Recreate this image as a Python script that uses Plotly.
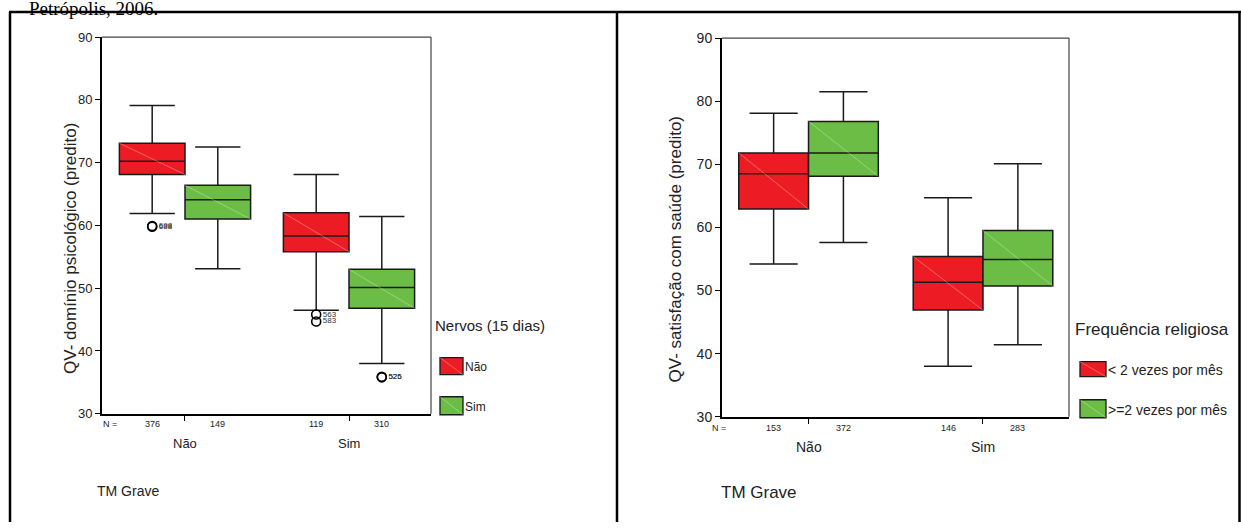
import plotly.graph_objects as go

W, H = 1241, 530

# ---------------- data ----------------
categories = ["Não", "Sim"]

# Left panel: QV - domínio psicológico, grouped by Nervos (15 dias)
left_groups = ["Não", "Sim"]
left_n = [[376, 149], [119, 310]]            # [category][group]
left_upper = [[79.1, 72.5], [68.1, 61.4]]
left_q3 = [[73.1, 66.4], [62.0, 53.0]]
left_median = [[70.2, 64.1], [58.3, 50.1]]
left_q1 = [[68.1, 61.0], [55.8, 46.8]]
left_lower = [[61.9, 53.1], [46.5, 38.0]]
left_out_cat = [0, 0, 1, 1, 1, 1]
left_out_grp = [0, 0, 0, 0, 1, 1]
left_out_val = [59.8, 59.9, 45.8, 44.7, 35.9, 35.8]
left_out_lab = ["688", "698", "563", "583", "525", "526"]

# Right panel: QV - satisfação com saúde, grouped by Frequência religiosa
right_groups = ["< 2 vezes por mês", ">=2 vezes por mês"]
right_n = [[153, 372], [146, 283]]
right_upper = [[78.1, 81.5], [64.7, 70.1]]
right_q3 = [[71.8, 76.8], [55.4, 59.5]]
right_median = [[68.5, 71.8], [51.3, 54.9]]
right_q1 = [[62.9, 68.1], [46.9, 50.7]]
right_lower = [[54.2, 57.6], [38.0, 41.4]]

yticks = [30, 40, 50, 60, 70, 80, 90]

# ---------------- style ----------------
RED = "#ED1C24"
GREEN = "#6BBD45"
EDGE = "#1a1a1a"
NARROW = "Liberation Sans Narrow, Arial Narrow, Liberation Sans, Arial"
SANS = "Liberation Sans, Arial, sans-serif"
BOXW = 0.4
OFF = [-0.2, 0.2]
COLORS = [RED, GREEN]

# the page is photographed with a small top offset; map target pixel rows
Y0, YS = 9.0, 0.968

def px_x(p):
    return p / W

def px_y(p):
    return 1 - ((p - Y0) / YS) / H

fig = go.Figure()

def add_panel(xa, ya, upper, q3, med, q1, lower):
    for ci in range(len(categories)):
        for gi in range(2):
            pos = ci + OFF[gi]
            fig.add_trace(go.Box(
                x=[pos], q1=[q1[ci][gi]], median=[med[ci][gi]], q3=[q3[ci][gi]],
                lowerfence=[lower[ci][gi]], upperfence=[upper[ci][gi]],
                width=BOXW, whiskerwidth=0.69, fillcolor=COLORS[gi],
                line=dict(color=EDGE, width=1.5), boxpoints=False,
                showlegend=False, hoverinfo="skip", xaxis=xa, yaxis=ya))
            # faint diagonal of the SPSS fill pattern
            fig.add_trace(go.Scatter(
                x=[pos - BOXW / 2, pos + BOXW / 2], y=[q3[ci][gi], q1[ci][gi]],
                mode="lines", line=dict(color="rgba(255,255,255,0.45)", width=0.7),
                showlegend=False, hoverinfo="skip", xaxis=xa, yaxis=ya))

add_panel("x", "y", left_upper, left_q3, left_median, left_q1, left_lower)
add_panel("x2", "y2", right_upper, right_q3, right_median, right_q1, right_lower)

# outliers (left panel)
fig.add_trace(go.Scatter(
    x=[c + OFF[g] for c, g in zip(left_out_cat, left_out_grp)], y=left_out_val,
    mode="markers+text", text=left_out_lab, textposition="middle right",
    textfont=dict(family=NARROW, size=8, color="#333"),
    marker=dict(symbol="circle-open", size=9, color="black", line=dict(width=1.6)),
    showlegend=False, hoverinfo="skip", xaxis="x", yaxis="y"))

axis_common = dict(showgrid=False, zeroline=False, showline=True, linecolor="black",
                   linewidth=2, ticks="outside", ticklen=5, tickcolor="black")

fig.update_layout(
    width=W, height=H, margin=dict(l=0, r=0, t=0, b=0),
    paper_bgcolor="white", plot_bgcolor="white", boxmode="overlay",
    xaxis=dict(domain=[px_x(102), px_x(431)], range=[-0.506, 1.5],
               tickvals=[0, 1], ticktext=["", ""], anchor="y", **axis_common),
    yaxis=dict(domain=[px_y(414), px_y(38)], range=[30, 90], tickvals=yticks,
               tickfont=dict(family=NARROW, size=13, color="#222"), anchor="x",
               **axis_common),
    xaxis2=dict(domain=[px_x(722), px_x(1069)], range=[-0.496, 1.493],
                tickvals=[0, 1], ticktext=["", ""], anchor="y2", **axis_common),
    yaxis2=dict(domain=[px_y(417), px_y(39)], range=[30, 90], tickvals=yticks,
                tickfont=dict(family=SANS, size=14, color="#222"), anchor="x2",
                **axis_common),
)

shapes = []
# thin frame on top/right of plot areas
for xr, yr in [("x domain", "y domain"), ("x2 domain", "y2 domain")]:
    shapes.append(dict(type="line", xref=xr, yref=yr, x0=0, x1=1, y0=1, y1=1,
                       line=dict(color="#444", width=1.2)))
    shapes.append(dict(type="line", xref=xr, yref=yr, x0=1, x1=1, y0=0, y1=1,
                       line=dict(color="#444", width=1.2)))
# outer panel frames
frame = dict(color="black", width=2.5)
shapes.append(dict(type="line", xref="paper", yref="paper", x0=px_x(9), x1=px_x(1241),
                   y0=px_y(13), y1=px_y(13), line=frame))
for xp in [10, 617, 1239.5]:
    shapes.append(dict(type="line", xref="paper", yref="paper", x0=px_x(xp), x1=px_x(xp),
                       y0=px_y(13), y1=0, line=frame))

annotations = []
# header text (cut off at top, as in the source page)
annotations.append(dict(text="Petrópolis, 2006.", x=px_x(27), y=1 - 13 / H, xref="paper",
                        yref="paper", xanchor="left", yanchor="bottom", showarrow=False,
                        font=dict(family="Liberation Serif, Times New Roman, serif",
                                  size=19, color="black")))

def panel_text(xa, x_left_px, y_n, y_cat, nvals, fsN, fsC, font, ytitle, ytx, yty, fsT,
               tmx, tmy, fsTM):
    annotations.append(dict(text="N =", x=px_x(x_left_px), y=px_y(y_n), xref="paper",
                            yref="paper", showarrow=False,
                            font=dict(family=font, size=fsN, color="#222")))
    for ci in range(len(categories)):
        annotations.append(dict(text=categories[ci], x=ci, y=px_y(y_cat), xref=xa,
                                yref="paper", showarrow=False,
                                font=dict(family=font, size=fsC, color="#222")))
        for gi in range(2):
            annotations.append(dict(text=str(nvals[ci][gi]), x=ci + OFF[gi], y=px_y(y_n),
                                    xref=xa, yref="paper", showarrow=False,
                                    font=dict(family=font, size=fsN, color="#222")))
    annotations.append(dict(text=ytitle, x=px_x(ytx), y=px_y(yty), xref="paper",
                            yref="paper", textangle=-90, showarrow=False,
                            font=dict(family=font, size=fsT, color="#222")))
    annotations.append(dict(text="TM Grave", x=px_x(tmx), y=px_y(tmy), xref="paper",
                            yref="paper", xanchor="left", showarrow=False,
                            font=dict(family=font, size=fsTM, color="#222")))

panel_text("x", 101, 431, 453, left_n, 9, 13, NARROW,
           "QV- domínio psicológico (predito)", 59, 249, 17, 95, 501, 14)
panel_text("x2", 719, 435, 457, right_n, 9, 14, SANS,
           "QV- satisfação com saúde (predito)", 675, 250, 17, 719, 504, 17)

def legend(title, labels, tx, ty, fsT, sx0, sx1, sy, lfs, font):
    annotations.append(dict(text=title, x=px_x(tx), y=px_y(ty), xref="paper",
                            yref="paper", xanchor="left", showarrow=False,
                            font=dict(family=font, size=fsT, color="#222")))
    for i, lab in enumerate(labels):
        y0, y1 = sy[i]
        shapes.append(dict(type="rect", xref="paper", yref="paper",
                           x0=px_x(sx0), x1=px_x(sx1), y0=px_y(y1), y1=px_y(y0),
                           fillcolor=COLORS[i], line=dict(color=EDGE, width=1.3)))
        shapes.append(dict(type="line", xref="paper", yref="paper",
                           x0=px_x(sx0), x1=px_x(sx1), y0=px_y(y0), y1=px_y(y1),
                           line=dict(color="rgba(255,255,255,0.45)", width=0.7)))
        annotations.append(dict(text=lab, x=px_x(sx1), y=px_y((y0 + y1) / 2 + 1),
                                xref="paper", yref="paper", xanchor="left",
                                yanchor="middle", showarrow=False,
                                font=dict(family=font, size=lfs, color="#222")))

legend("Nervos (15 dias)", left_groups, 433, 326, 15, 440, 463,
       [(358, 375), (397, 415)], 12, NARROW)
legend("Frequência religiosa", right_groups, 1073, 330, 17, 1080, 1106,
       [(362, 377), (400, 418)], 14, SANS)

fig.update_layout(shapes=shapes, annotations=annotations)
fig.write_html(
    "out.html",
    config={"displayModeBar": False, "responsive": False},
    post_script=(
        "document.body.style.margin='0';document.body.style.overflow='hidden';"
        "var d=document.getElementById('{plot_id}');"
        "d.style.position='fixed';d.style.left='0px';d.style.top='0px';"
    ),
)
